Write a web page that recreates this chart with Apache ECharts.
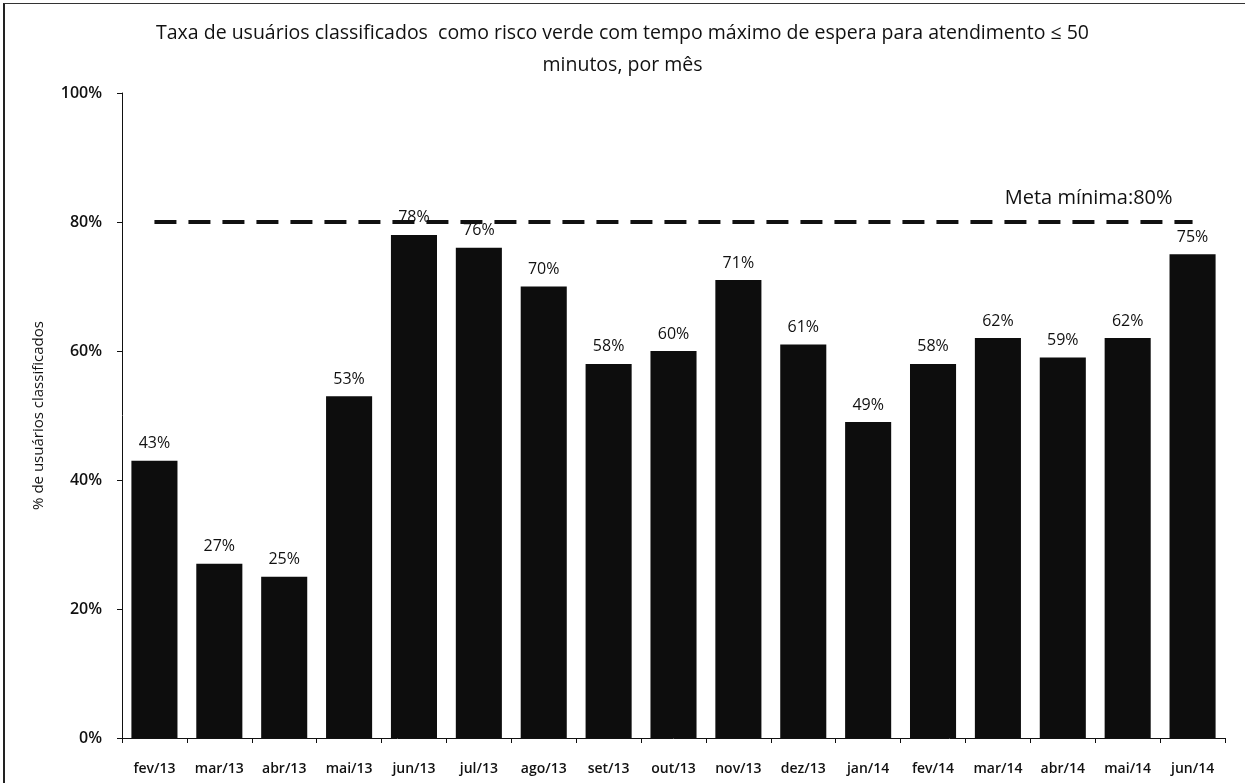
<!DOCTYPE html>
<html>
<head>
<meta charset="utf-8">
<script src="https://cdn.jsdelivr.net/npm/echarts@6/dist/echarts.min.js"></script>
<style>
html,body{margin:0;padding:0;background:#fff;}
#frame{position:absolute;left:3px;top:3px;width:1242px;height:780px;border-top:1px solid #333;border-left:2px solid #222;box-sizing:border-box;}
#chart{position:absolute;left:0;top:0;width:1245px;height:783px;}
</style>
</head>
<body>
<div id="frame"></div>
<div id="chart"></div>
<script>
const categories = ['fev/13','mar/13','abr/13','mai/13','jun/13','jul/13','ago/13','set/13','out/13','nov/13','dez/13','jan/14','fev/14','mar/14','abr/14','mai/14','jun/14'];
const taxa = [43,27,25,53,78,76,70,58,60,71,61,49,58,62,59,62,75];
const metaMinima = 80;
const yTicks = [0,20,40,60,80,100];
const titleText = 'Taxa de usuários classificados  como risco verde com tempo máximo de espera para atendimento ≤ 50\nminutos, por mês';
const yName = '% de usuários classificados';
const metaLabel = 'Meta mínima:80%';

const FONT = '"Open Sans", Lato, sans-serif';
const chart = echarts.init(document.getElementById('chart'), null, {renderer:'canvas'});
chart.setOption({
  animation:false,
  backgroundColor:'transparent',
  title:{
    text:titleText,
    left:'center', top:12,
    textStyle:{fontFamily:FONT,fontSize:19.5,fontWeight:'normal',color:'#111',lineHeight:32}
  },
  grid:{left:122,right:20,top:93,bottom:45},
  xAxis:{
    type:'category',
    data:categories,
    boundaryGap:true,
    axisLine:{lineStyle:{color:'#111',width:1}},
    axisTick:{show:true,alignWithLabel:false,length:5,lineStyle:{color:'#111'}},
    axisLabel:{fontFamily:FONT,fontSize:14,fontWeight:600,color:'#111',margin:24,interval:0}
  },
  yAxis:{
    type:'value',
    min:yTicks[0], max:yTicks[yTicks.length-1], interval:20,
    name:yName, nameLocation:'middle', nameGap:76, nameRotate:90,
    nameTextStyle:{fontFamily:FONT,fontSize:15,color:'#111'},
    axisLine:{show:true,lineStyle:{color:'#111',width:1}},
    axisTick:{show:true,length:5,lineStyle:{color:'#111'}},
    splitLine:{show:false},
    axisLabel:{fontFamily:FONT,fontSize:16,fontWeight:600,color:'#111',margin:20,formatter:v=>v+'%'}
  },
  series:[{
    type:'bar',
    data:taxa,
    barCategoryGap:'29%',
    itemStyle:{color:'#0d0d0d'},
    label:{show:true,position:'top',distance:9,formatter:p=>p.value+'%',fontFamily:FONT,fontSize:16,color:'#111'},
    markLine:{
      silent:true,
      symbol:['none','none'],
      lineStyle:{type:[22,12],color:'#111',width:4},
      label:{show:true,position:'insideEndTop',formatter:metaLabel,fontFamily:FONT,fontSize:20,color:'#111',distance:[20,14]},
      data:[[{coord:[categories[0],metaMinima]},{coord:[categories[categories.length-1],metaMinima]}]]
    }
  }]
});
</script>
</body>
</html>
